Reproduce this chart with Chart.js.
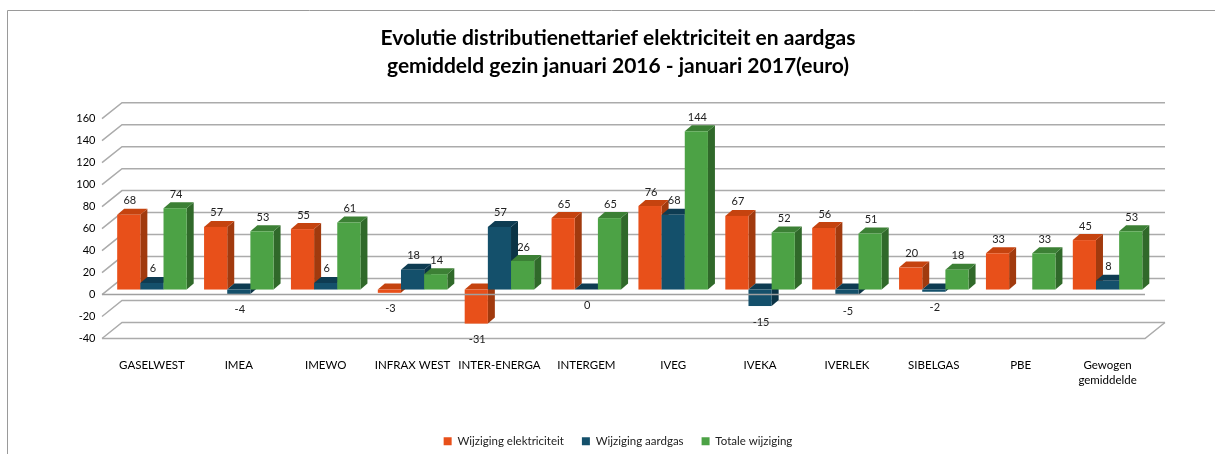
<!DOCTYPE html>
<html>
<head>
<meta charset="utf-8">
<script src="https://cdn.jsdelivr.net/npm/chart.js@4.4.1/dist/chart.umd.min.js"></script>
<style>
  html, body { margin: 0; padding: 0; background: #fff; }
  canvas { display: block; }
</style>
</head>
<body>
<canvas id="chart" width="1215" height="454"></canvas>
<script>
// gegevens uit de grafiek
const categories = ['GASELWEST', 'IMEA', 'IMEWO', 'INFRAX WEST', 'INTER-ENERGA', 'INTERGEM',
  'IVEG', 'IVEKA', 'IVERLEK', 'SIBELGAS', 'PBE', ['Gewogen', 'gemiddelde']];
const wijzigingElektriciteit = [68, 57, 55, -3, -31, 65, 76, 67, 56, 20, 33, 45];
const wijzigingAardgas = [6, -4, 6, 18, 57, 0, 68, -15, -5, -2, null, 8];
const totaleWijziging = [74, 53, 61, 14, 26, 65, 144, 52, 51, 18, 33, 53];
const yMin = -40, yMax = 160, yStep = 20;

const FONT = 'Lato, "Noto Sans", sans-serif';
Chart.defaults.font.family = FONT;

// diepte van de balken en van de achterwand
const DX = 7, DY = 6;

const bars3d = {
  id: 'bars3d',
  beforeDraw(chart) {
    const ctx = chart.ctx;
    ctx.save();
    ctx.strokeStyle = '#9a9a9a';
    ctx.lineWidth = 1;
    ctx.beginPath();
    ctx.moveTo(7.5, 454);
    ctx.lineTo(7.5, 10.5);
    ctx.lineTo(1215, 10.5);
    ctx.stroke();
    ctx.restore();
  },
  beforeDatasetsDraw(chart) {
    const ctx = chart.ctx;
    const ys = chart.scales.y;
    const area = chart.chartArea;
    const fx = area.left - 6.5, bx = area.left + 13.5;

    // rasterlijnen achterwand
    ctx.save();
    ctx.strokeStyle = '#ababab';
    ctx.lineWidth = 1.5;
    for (let v = yMin; v <= yMax; v += yStep) {
      const py = ys.getPixelForValue(v);
      ctx.beginPath();
      ctx.moveTo(fx, py + 5);
      ctx.lineTo(bx, py - 11);
      ctx.lineTo(area.right + 14, py - 11);
      ctx.stroke();
    }
    const pMin = ys.getPixelForValue(yMin);
    ctx.beginPath();
    ctx.moveTo(fx, pMin + 5);
    ctx.lineTo(area.right - 6, pMin + 5);
    ctx.lineTo(area.right + 14, pMin - 11);
    ctx.stroke();
    ctx.restore();

    // alle balken van links naar rechts
    const items = [];
    chart.data.datasets.forEach((ds, i) => {
      if (!chart.isDatasetVisible(i)) return;
      chart.getDatasetMeta(i).data.forEach((bar, j) => {
        const v = ds.data[j];
        if (v === null || v === undefined) return;
        items.push({ bar, v, ds });
      });
    });
    items.sort((a, b) => a.bar.x - b.bar.x);

    ctx.save();
    items.forEach(({ bar, ds }) => {
      const { x, y, base, width } = bar.getProps(['x', 'y', 'base', 'width'], true);
      const l = x - width / 2, r = x + width / 2;
      const top = Math.min(y, base), bot = Math.max(y, base);
      ctx.fillStyle = ds.sideColor;
      ctx.beginPath();
      ctx.moveTo(r, top);
      ctx.lineTo(r + DX, top - DY);
      ctx.lineTo(r + DX, bot - DY);
      ctx.lineTo(r, bot);
      ctx.closePath();
      ctx.fill();
      ctx.fillStyle = ds.topColor;
      ctx.beginPath();
      ctx.moveTo(l, top);
      ctx.lineTo(l + DX, top - DY);
      ctx.lineTo(r + DX, top - DY);
      ctx.lineTo(r, top);
      ctx.closePath();
      ctx.fill();
      ctx.fillStyle = ds.backgroundColor;
      ctx.fillRect(l, top, width, bot - top);
    });

    // voorrand van de bodem
    const p0 = ys.getPixelForValue(0);
    ctx.strokeStyle = '#a0a0a0';
    ctx.lineWidth = 1.5;
    ctx.beginPath();
    ctx.moveTo(fx, p0 + 5);
    ctx.lineTo(area.right - 6, p0 + 5);
    ctx.stroke();

    // waardelabels
    ctx.fillStyle = '#222';
    ctx.font = '11px ' + FONT;
    ctx.textAlign = 'center';
    ctx.textBaseline = 'middle';
    items.forEach(({ bar, v }) => {
      const { x, y, base } = bar.getProps(['x', 'y', 'base'], true);
      const ly = v > 0 ? Math.min(y, base) - 14 : Math.max(y, base) + 16;
      ctx.fillText(String(v), x + 1, ly);
    });
    ctx.restore();
    return false;
  }
};

new Chart(document.getElementById('chart'), {
  type: 'bar',
  data: {
    labels: categories,
    datasets: [
      {
        label: 'Wijziging elektriciteit',
        data: wijzigingElektriciteit,
        backgroundColor: '#e8501a',
        sideColor: '#a13a0e',
        topColor: '#c5430f'
      },
      {
        label: 'Wijziging aardgas',
        data: wijzigingAardgas,
        backgroundColor: '#14506b',
        sideColor: '#0b3446',
        topColor: '#0e3c52'
      },
      {
        label: 'Totale wijziging',
        data: totaleWijziging,
        backgroundColor: '#4ca245',
        sideColor: '#30692a',
        topColor: '#3c8035'
      }
    ]
  },
  options: {
    responsive: false,
    animation: false,
    categoryPercentage: 0.8,
    barPercentage: 1,
    layout: { padding: { left: 21, right: 0, top: 10, bottom: -3 } },
    plugins: {
      title: {
        display: true,
        text: ['Evolutie distributienettarief elektriciteit en aardgas',
               'gemiddeld gezin januari 2016 - januari 2017(euro)'],
        color: '#000',
        font: { size: 21, weight: 'bold', lineHeight: 1.35 },
        padding: { top: 14, bottom: 33 }
      },
      legend: {
        position: 'bottom',
        labels: {
          boxWidth: 8,
          boxHeight: 8,
          padding: 18,
          color: '#222',
          font: { size: 11.5 }
        }
      },
      tooltip: { enabled: false }
    },
    scales: {
      x: {
        grid: { display: false },
        border: { display: false },
        ticks: {
          color: '#000',
          padding: 16,
          maxRotation: 0,
          autoSkip: false,
          font: { size: 11.5, lineHeight: 1.3 }
        },
        afterFit(scale) { scale.height = 84; }
      },
      y: {
        min: yMin,
        max: yMax,
        grid: { display: false, drawTicks: false },
        border: { display: false },
        ticks: {
          stepSize: yStep,
          padding: 13,
          labelOffset: 5,
          color: '#000',
          font: { size: 11 }
        },
        afterFit(scale) { scale.width = 87.5; }
      },
      rechts: {
        position: 'right',
        grid: { display: false },
        border: { display: false },
        ticks: { display: false },
        afterFit(scale) { scale.width = 64; }
      }
    }
  },
  plugins: [bars3d]
});
</script>
</body>
</html>
